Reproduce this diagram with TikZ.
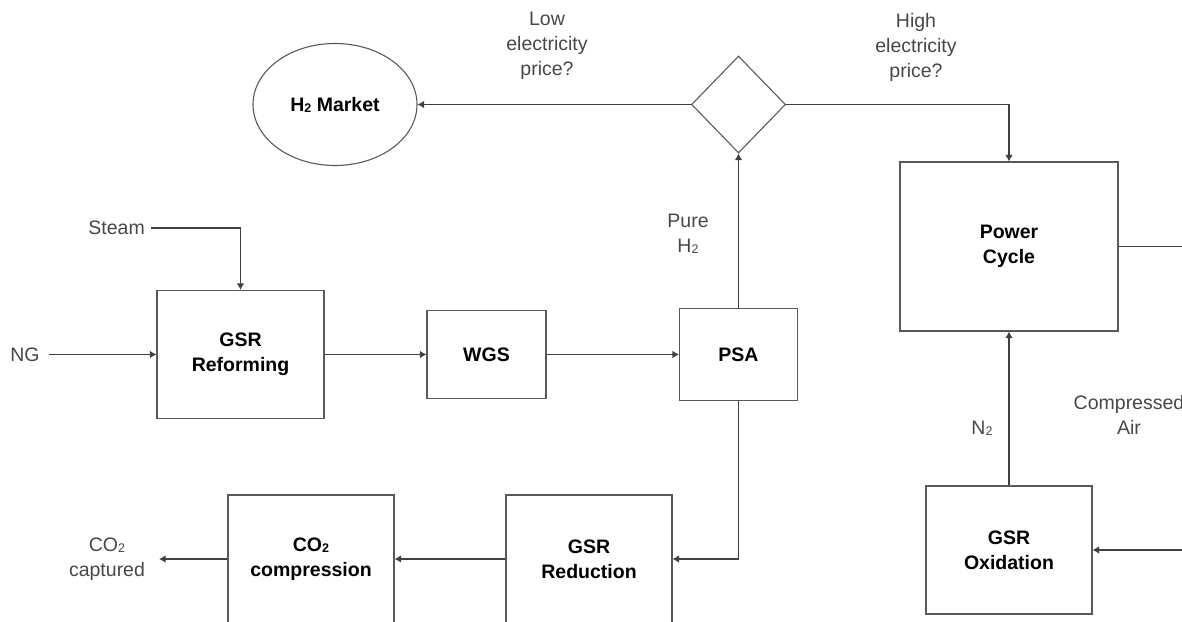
\documentclass[tikz,border=0pt]{standalone}
\usepackage{fontspec}
\setmainfont{Liberation Sans}
\usetikzlibrary{shapes.geometric,arrows.meta}
\newcommand{\subtwo}{\raisebox{-1pt}{\fontsize{12.5}{12.5}\selectfont 2}}
\begin{document}
\begin{tikzpicture}[x=1pt,y=-1pt,
  box/.style={draw=black!65, line width=1.1pt, inner sep=0pt},
  ttl/.style={font=\bfseries\fontsize{19.5}{25}\selectfont, align=center, text=black},
  lbl/.style={font=\fontsize{19.5}{25}\selectfont, align=center, text=black!72, inner sep=0pt},
  flow/.style={draw=black!75, line width=1.1pt, -{Latex[length=6.5pt,width=7.5pt]}},
  plainline/.style={draw=black!75, line width=1.1pt}]
\useasboundingbox (0,0) rectangle (1182,621);
\clip (0,0) rectangle (1182,621);

% nodes
\node[box, ttl, ellipse, minimum width=164pt, minimum height=122pt] (mkt) at (335,104.5) {H\subtwo{} Market};
\node[box, diamond, minimum width=94pt, minimum height=97pt] (dec) at (738.5,104.5) {};
\node[box, ttl, minimum width=218pt, minimum height=169pt] (pc) at (1009,246.5) {Power\\Cycle};
\node[box, ttl, minimum width=118pt, minimum height=92pt] (psa) at (738.5,354.5) {PSA};
\node[box, ttl, minimum width=119pt, minimum height=88pt] (wgs) at (486.5,354.5) {WGS};
\node[box, ttl, minimum width=167pt, minimum height=128pt] (ref) at (240.5,354.5) {GSR\\Reforming};
\node[box, ttl, minimum width=166pt, minimum height=128pt] (red) at (589,559) {GSR\\Reduction};
\node[box, ttl, minimum width=166pt, minimum height=128pt] (co2) at (311,559) {CO\subtwo\\compression};
\node[box, ttl, minimum width=166pt, minimum height=128pt] (ox) at (1009,550) {GSR\\Oxidation};

% labels
\node[lbl] (low) at (547,46) {Low\\electricity\\price?};
\node[lbl] (high) at (916,47) {High\\electricity\\price?};
\node[lbl] (pure) at (688,233.5) {Pure\\H\subtwo};
\node[lbl, anchor=east] (steam) at (145,228) {Steam};
\node[lbl] (ng) at (25,354.5) {NG};
\node[lbl] (cap) at (107,559.5) {CO\subtwo\\captured};
\node[lbl] (n2) at (982,428) {N\subtwo};
\node[lbl] (air) at (1129,415) {Compressed\\Air};

% free ends
\coordinate (pcout) at (1182,246.5);
\coordinate (airin) at (1182,550);
\coordinate (capin) at (159,559);

% connectors
\draw[flow] (dec.west) -- (mkt.east);
\draw[flow] (dec.east) -| (pc.north);
\draw[flow] (psa.north) -- (dec.south);
\draw[plainline] (pc.east) -- (pcout);
\draw[flow, shorten <=6pt] (steam.east) -| (ref.north);
\draw[flow, shorten <=9pt] (ng.east) -- (ref.west);
\draw[flow] (ref.east) -- (wgs.west);
\draw[flow] (wgs.east) -- (psa.west);
\draw[flow] (psa.south) |- (red.east);
\draw[flow] (red.west) -- (co2.east);
\draw[flow] (co2.west) -- (capin);
\draw[flow] (ox.north) -- (pc.south);
\draw[flow] (airin) -- (ox.east);
\end{tikzpicture}
\end{document}
